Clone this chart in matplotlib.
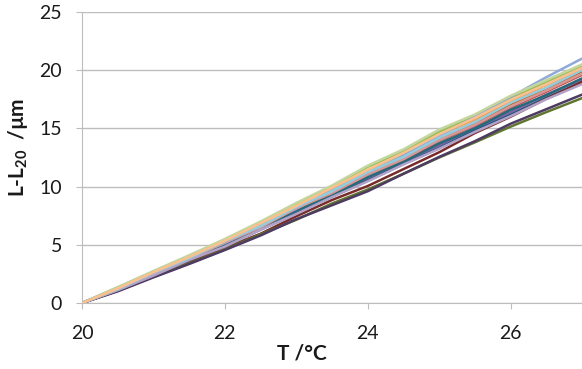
import matplotlib
matplotlib.use("Agg")
import matplotlib.pyplot as plt

plt.rcParams['font.family'] = ['Lato', 'DejaVu Sans']
plt.rcParams['mathtext.fontset'] = 'custom'
plt.rcParams['mathtext.rm'] = 'Lato'
plt.rcParams['mathtext.bf'] = 'Lato:bold'

# temperature steps (°C)
temps = [20, 20.5, 21, 21.5, 22, 22.5, 23, 23.5, 24, 24.5, 25, 25.5, 26, 26.5, 27]

# elongation L-L20 (µm) of each run
s01 = [0, 1.2, 2.4, 3.75, 4.9, 6.4, 7.75, 9.25, 10.55, 12.05, 13.4, 14.85, 16.25, 17.65, 19.0]
s02 = [0, 1.1, 2.55, 3.7, 5.2, 6.45, 8.1, 9.35, 11.0, 12.3, 13.9, 15.25, 16.8, 18.15, 19.6]
s03 = [0, 1.35, 2.7, 4.0, 5.45, 6.9, 8.45, 10.0, 11.7, 13.0, 14.7, 16.05, 17.55, 19.0, 20.3]
s04 = [0, 1.2, 2.4, 3.8, 4.95, 6.45, 7.85, 9.3, 10.7, 12.15, 13.55, 15.05, 16.4, 17.9, 19.2]
s05 = [0, 1.25, 2.5, 3.9, 5.15, 6.65, 8.05, 9.6, 11.0, 12.55, 13.95, 15.5, 16.9, 18.4, 19.8]
s06 = [0, 1.2, 2.6, 3.95, 5.3, 6.7, 8.3, 9.75, 11.35, 12.75, 14.4, 15.8, 17.3, 18.75, 20.1]
s07 = [0, 1.1, 2.45, 3.65, 4.9, 6.3, 7.7, 9.15, 10.5, 11.95, 13.3, 14.8, 16.15, 17.6, 18.9]
s08 = [0, 1.05, 2.3, 3.45, 4.75, 5.95, 7.45, 8.85, 10.05, 11.5, 12.95, 14.6, 16.0, 17.55, 19.0]
s09 = [0, 1.05, 2.25, 3.4, 4.6, 5.9, 7.15, 8.55, 9.75, 11.1, 12.5, 13.8, 15.15, 16.4, 17.6]
s10 = [0, 1.0, 2.2, 3.35, 4.55, 5.8, 7.2, 8.4, 9.6, 11.1, 12.55, 13.9, 15.4, 16.65, 17.9]
s11 = [0, 1.15, 2.5, 3.7, 5.05, 6.4, 7.95, 9.25, 10.8, 12.15, 13.7, 15.0, 16.6, 17.85, 19.3]
s12 = [0, 1.25, 2.55, 3.85, 5.25, 6.6, 8.2, 9.55, 11.1, 12.6, 14.05, 15.55, 17.0, 18.45, 19.9]
s13 = [0, 1.25, 2.5, 3.95, 5.15, 6.65, 8.1, 9.65, 11.15, 12.7, 14.35, 16.0, 17.7, 19.4, 21.0]
s14 = [0, 1.15, 2.55, 3.8, 5.2, 6.5, 8.15, 9.45, 11.05, 12.35, 14.0, 15.3, 16.9, 18.25, 19.7]
s15 = [0, 1.35, 2.75, 4.1, 5.5, 7.0, 8.6, 10.1, 11.8, 13.2, 14.9, 16.2, 17.8, 19.15, 20.5]
s16 = [0, 1.1, 2.35, 3.7, 4.85, 6.3, 7.65, 9.1, 10.45, 11.9, 13.25, 14.7, 16.05, 17.5, 18.8]
s17 = [0, 1.2, 2.6, 3.85, 5.3, 6.6, 8.25, 9.6, 11.25, 12.55, 14.2, 15.55, 17.2, 18.5, 20.0]
s18 = [0, 1.25, 2.65, 3.95, 5.35, 6.85, 8.35, 9.9, 11.45, 12.9, 14.5, 15.9, 17.45, 18.8, 20.2]

runs = [s01, s02, s03, s04, s05, s06, s07, s08, s09,
        s10, s11, s12, s13, s14, s15, s16, s17, s18]

# office-like palette
colors = ['#4F81BD', '#C0504D', '#9BBB59', '#8064A2', '#4BACC6', '#F79646',
          '#2C4D75', '#772C2A', '#5F7530', '#4D3B62', '#276A7C', '#B65708',
          '#8FA9D8', '#D99694', '#C3D69B', '#B3A2C7', '#93CDDD', '#FAC090']

fig = plt.figure(figsize=(5.82, 3.69), dpi=100)
ax = fig.add_axes([82 / 582, 66 / 369, 500 / 582, 291 / 369])

for run, c in zip(runs, colors):
    ax.plot(temps, run, color=c, lw=1.8, solid_capstyle='round', zorder=3)

ax.set_xlim(20, 27)
ax.set_ylim(0, 25)
ax.set_xticks([20, 22, 24, 26])
ax.set_yticks([0, 5, 10, 15, 20, 25])

ax.grid(axis='y', color='#BDBDBD', lw=1.0)
ax.set_axisbelow(True)
for side in ['top', 'right']:
    ax.spines[side].set_visible(False)
ax.spines['left'].set_color('#BDBDBD')
ax.spines['bottom'].set_color('#BDBDBD')

ax.tick_params(axis='y', length=4.5, color='#BDBDBD', pad=10, labelsize=14, labelcolor='#1a1a1a')
ax.tick_params(axis='x', length=4.5, color='#BDBDBD', pad=11, labelsize=14, labelcolor='#1a1a1a')

fig.text(302 / 582, 1 - 354 / 369, 'T /°C', ha='center', va='center',
         fontsize=15, fontweight='bold', color='#1a1a1a')
fig.text(18 / 582, 1 - 147 / 369, r'L-L$_{\mathbf{20}}$  /µm', ha='center', va='center',
         rotation=90, fontsize=15, fontweight='bold', color='#1a1a1a')

fig.savefig('out.png', dpi=100)
